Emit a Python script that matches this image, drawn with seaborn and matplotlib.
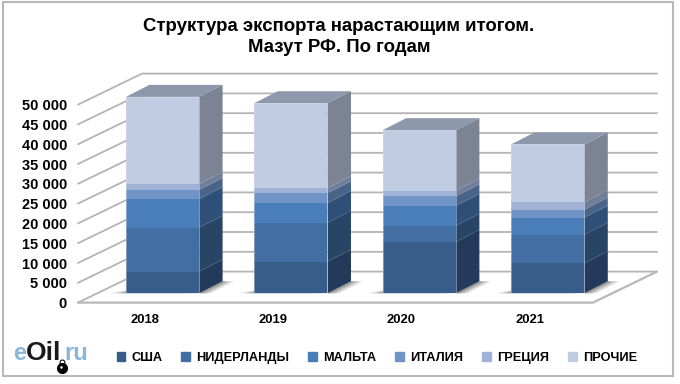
import numpy as np
import matplotlib.pyplot as plt
from matplotlib.lines import Line2D
import seaborn as sns

years = ['2018', '2019', '2020', '2021']
countries = ['США', 'НИДЕРЛАНДЫ', 'МАЛЬТА', 'ИТАЛИЯ', 'ГРЕЦИЯ', 'ПРОЧИЕ']
usa = [5500, 8000, 13000, 7600]
netherlands = [11100, 9800, 4100, 7200]
malta = [7200, 5000, 5000, 4300]
italy = [2300, 2500, 2400, 2000]
greece = [1500, 1300, 1400, 1900]
other = [22000, 21400, 15300, 14600]
y_ticks = [0, 5000, 10000, 15000, 20000, 25000, 30000, 35000, 40000, 45000, 50000]
y_labels = ['0', '5 000', '10 000', '15 000', '20 000', '25 000', '30 000',
            '35 000', '40 000', '45 000', '50 000']

front_colors = ['#385d8a', '#426ea3', '#4a7ebb', '#7094c6', '#a0b3d6', '#c0cce2']
side_colors = ['#243a5a', '#294566', '#2e4f78', '#4a6389', '#6f7f9b', '#7c8494']

sns.set_theme(style='white')
plt.rcParams['font.family'] = ['Liberation Sans', 'DejaVu Sans']

W, H = 680, 384
fig = plt.figure(figsize=(W / 100, H / 100), dpi=100)
# axes box in pixels, the scales below put category 0 at x=162.5 and value 0 at y=293.3
left, right, top, bottom = 78, 660, 60, 303
ax = fig.add_axes([left / W, 1 - bottom / H, (right - left) / W, (bottom - top) / H])

px_x = 128.4         # pixels per category
px_y = 198 / 50000   # pixels per unit
ax.patch.set_alpha(0)

stack = np.cumsum([usa, netherlands, malta, italy, greece, other], axis=0)
bw = 0.57
depth_x = 23.5 / px_x
depth_y = 12 / px_y

# tallest first so the lower layers sit on top of it
for level in range(5, -1, -1):
    sns.barplot(x=years, y=stack[level], color=front_colors[level], saturation=1,
                width=bw, ax=ax, zorder=5, linewidth=0)

ax.set_xlim((left - 162.5) / px_x, (right - 162.5) / px_x)
ax.set_ylim((293.3 - bottom) / px_y, (293.3 - top) / px_y)

# walls and floor
wall_dx = 64 / px_x
x0 = ax.get_xlim()[0]
x1 = (593 - 162.5) / px_x
front_off = -2350
back_off = 5480
for v in y_ticks:
    ax.plot([x0, x0 + wall_dx, x1 + wall_dx], [v + front_off, v + back_off, v + back_off],
            color='#b4b4b4', lw=1.3, zorder=1, clip_on=False)
ax.plot([x0, x1, x1 + wall_dx], [front_off, front_off, back_off], color='#b8b8b8', lw=1.6,
        zorder=1, clip_on=False)

# 3d faces and soft floor shadow
for i in range(len(years)):
    xr = i + bw / 2
    xl = i - bw / 2
    for grow, alpha in [(0.09, 0.18), (0.06, 0.25), (0.03, 0.35)]:
        ax.fill([xl - grow * 1.3, xl, xr, xr + depth_x, xr + depth_x + grow, xr + grow],
                [0, grow * 9000, 0, depth_y, depth_y, 0],
                color='#555555', alpha=alpha, lw=0, zorder=2)
    bottom_v = 0
    for level in range(6):
        t = stack[level][i]
        ax.fill([xr, xr + depth_x, xr + depth_x, xr],
                [bottom_v, bottom_v + depth_y, t + depth_y, t],
                color=side_colors[level], lw=0, zorder=4)
        bottom_v = t
    ax.fill([xl, xl + depth_x, xr + depth_x, xr],
            [bottom_v, bottom_v + depth_y, bottom_v + depth_y, bottom_v],
            color='#8e98ac', lw=0, zorder=4)
    # light rim round the front face
    ax.plot([xl, xl, xr, xr], [0, bottom_v, bottom_v, 0], color='#d5dcec', lw=0.7,
            alpha=0.45, zorder=6)

sns.despine(ax=ax, left=True, bottom=True)
ax.set_yticks([v + front_off for v in y_ticks], y_labels)
ax.set_xticks([i - 18 / px_x for i in range(4)], years)
ax.tick_params(axis='both', length=0, colors='black')
ax.tick_params(axis='y', pad=8, labelsize=10.5)
ax.tick_params(axis='x', pad=8, labelsize=9.4)
for lab in ax.get_yticklabels() + ax.get_xticklabels():
    lab.set_fontweight('bold')
ax.set_xlabel('')
ax.set_ylabel('')

fig.text(339 / W, 1 - 26.5 / H, 'Структура экспорта нарастающим итогом.', ha='center', va='center',
         fontsize=13.4, fontweight='bold', color='black')
fig.text(339 / W, 1 - 47 / H, 'Мазут РФ. По годам', ha='center', va='center',
         fontsize=13.4, fontweight='bold', color='black')

handles = [plt.Rectangle((0, 0), 1, 1, color=c) for c in front_colors]
fig.legend(handles, countries, ncol=6, frameon=False, loc='center left',
           bbox_to_anchor=(105 / W, 1 - 358 / H), prop={'size': 9.2, 'weight': 'bold'},
           handlelength=0.7, handleheight=0.7, handletextpad=0.45, columnspacing=1.5,
           labelcolor='black')

# logo
fig.text(13 / W, 1 - 353 / H, 'e', color='#8ab6d8', fontsize=17, fontweight='bold', va='center')
fig.text(26 / W, 1 - 353 / H, 'Oil', color='#1a1a1a', fontsize=19, fontweight='bold', va='center')
fig.text(64 / W, 1 - 353 / H, 'ru', color='#8ab6d8', fontsize=17, fontweight='bold', va='center')
fig.add_artist(Line2D([62 / W], [1 - 362 / H], marker='o', ms=3.5, mfc='white', mec='black',
                      mew=0.8, transform=fig.transFigure))
fig.add_artist(Line2D([62 / W], [1 - 368 / H], marker='o', ms=7, color='black',
                      transform=fig.transFigure))
fig.add_artist(Line2D([60.5 / W], [1 - 367 / H], marker='o', ms=1.8, color='white', mew=0,
                      transform=fig.transFigure))

# outer frame
fig.add_artist(plt.Rectangle((3 / W, 1 - 376 / H), 670 / W, 374 / H, fill=False,
                             ec='#b8b8b8', lw=1.5, transform=fig.transFigure))
fig.savefig('out.png', dpi=100)
